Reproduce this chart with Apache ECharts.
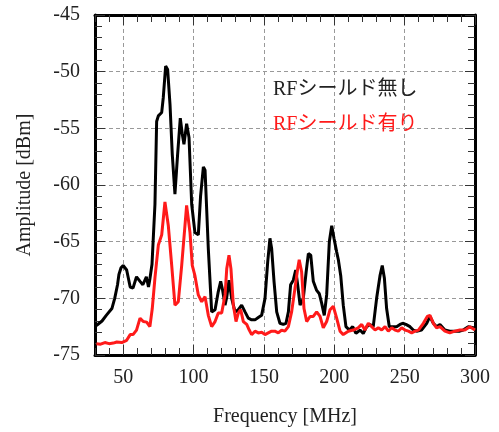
<!DOCTYPE html>
<html>
<head>
<meta charset="utf-8">
<script src="https://cdn.jsdelivr.net/npm/echarts@6/dist/echarts.min.js"></script>
<style>
  html, body { margin: 0; padding: 0; background: #fff; }
  #chart { width: 499px; height: 432px; }
</style>
</head>
<body>
<div id="chart"></div>
<script>
// [MHz, dBm]
var shieldOff = [
  [31, -72.4], [33, -72.2], [35, -72.0], [38, -71.5], [42, -70.9], [44, -70.0], [46, -68.8], [47, -67.9],
  [48.5, -67.3], [50, -67.1], [52.5, -67.5], [55, -69.0], [57, -69.1], [59.5, -68.1], [62, -68.5], [64, -68.8],
  [66.5, -68.1], [68, -69.0], [69, -68.3], [70.5, -67.0], [72.6, -61.7], [73.8, -54.4], [75, -53.9], [77.4, -53.6],
  [78.5, -52.3], [80.2, -49.5], [81.6, -49.8], [83.3, -52.9], [84.9, -57.3], [86.8, -60.8], [88.7, -57.3], [90.6, -54.1],
  [92, -55.5], [93.2, -56.4], [95.1, -54.6], [96.8, -55.8], [98.7, -61.7], [101, -64.2], [103.4, -64.4], [105, -61],
  [107, -58.4], [108.2, -58.7], [110.5, -65.6], [112.9, -71.2], [115.3, -71.0], [117.6, -69.4], [119.3, -68.5], [120.7, -69.3],
  [122.4, -70.6], [123.6, -69.9], [125.2, -68.4], [127.1, -70], [129.5, -71.2], [131.8, -71.0], [134.2, -70.6], [136.6, -71.2],
  [138.9, -71.75], [141.3, -71.9], [143.7, -71.9], [146, -71.7], [148.4, -71.5], [150.8, -70], [152.7, -66.8], [154.3, -64.7],
  [155.5, -65.6], [157.2, -68.5], [159.1, -71.2], [161.4, -72.2], [163.8, -72.3], [165.7, -72.2], [167.4, -71.2], [169, -68.8],
  [170.9, -68.4], [172.6, -67.5], [174, -68.8], [175.7, -70.6], [178, -70], [180, -67.7], [181.6, -66.05], [183.3, -66.2],
  [185.1, -68.5], [187.5, -69.3], [189.4, -69.6], [191, -70.4], [192.9, -71.5], [194.6, -69.7], [196.5, -65], [198.2, -63.6],
  [199.8, -64.7], [201.7, -65.9], [202.9, -66.6], [204.6, -68], [206.4, -70.6], [208.3, -72.5], [210.7, -72.8], [213.1, -72.5],
  [215.4, -73.1], [218.3, -72.8], [220.6, -73.1], [223, -72.5], [225.4, -72.3], [227.7, -72.5], [230.1, -70], [232.5, -68],
  [234.1, -67.1], [235.6, -68.2], [237.2, -70.9], [239.1, -72.5], [242, -72.5], [244.3, -72.5], [246.7, -72.3], [248.6, -72.2],
  [250.9, -72.3], [253.8, -72.5], [256.1, -72.8], [258.5, -72.9], [262, -72.8], [265.7, -72.2], [268, -71.6], [270.4, -72.2],
  [272.7, -72.5], [275.1, -72.3], [278.6, -72.8], [282.1, -72.9], [285.7, -72.9], [289.2, -72.9], [291.6, -72.8], [295.2, -72.5],
  [298.7, -72.6], [300, -72.6]
]
var shieldOn = [
  [31, -74.0], [34, -74.05], [37, -73.9], [40, -74.0], [43, -73.95], [45.5, -73.85], [49, -73.9], [52.5, -73.7],
  [55, -73.2], [57, -73.2], [59.5, -72.8], [62, -71.75], [64.3, -72.05], [66.7, -72.1], [69, -72.5], [70.7, -70.9],
  [72.6, -68.2], [75, -65.3], [77.4, -64.4], [79.7, -61.5], [82.1, -63.6], [84.5, -67.1], [86.8, -70.6], [89.2, -70.3],
  [91.6, -67.1], [95.1, -61.8], [97.5, -64.2], [99.1, -67.1], [101, -68], [103.4, -69.7], [105.8, -70.3], [108.2, -69.85],
  [110.5, -71.5], [112.9, -72.5], [115.3, -72.05], [117.6, -71.3], [120, -71.3], [122.4, -69.7], [123.6, -67.4], [125.2, -66.2],
  [126.6, -67.4], [128.3, -70.6], [130.2, -72.05], [131.8, -71.3], [133.5, -71.0], [135.4, -72.05], [137.8, -72.3], [139.6, -72.8],
  [141.3, -73.2], [143.7, -72.9], [146, -73.05], [148.4, -73.0], [150.8, -73.2], [153.1, -73.05], [155.5, -72.9], [157.8, -72.9],
  [160.2, -73.05], [162.6, -72.8], [164.9, -72.9], [167.4, -72.5], [169.7, -71.2], [172.1, -69.1], [174, -67.4], [175.1, -66.6],
  [176.8, -67.65], [178.5, -70.9], [180.4, -72.05], [182.8, -71.6], [185.1, -71.6], [187.5, -71.2], [189.9, -71.6], [192.2, -72.6],
  [194.6, -72.05], [197, -71.0], [199.3, -70.7], [201.7, -71.75], [204.1, -72.9], [206.4, -73.2], [210, -72.9], [213.5, -72.8],
  [217, -72.6], [219.5, -72.3], [221.8, -72.8], [224.2, -72.2], [226.6, -72.5], [229, -72.8], [231.3, -72.6], [233.7, -72.8],
  [236.1, -72.5], [238.4, -72.9], [240.8, -72.6], [243.2, -72.8], [245.5, -72.9], [247.9, -72.6], [250.3, -72.8], [252.7, -72.9],
  [255, -73.05], [257.4, -72.9], [259.8, -72.8], [263.3, -72.2], [266.1, -71.6], [268, -71.5], [270.4, -72.2], [272.7, -72.6],
  [275.1, -72.5], [278.6, -72.9], [282.1, -73.05], [285.7, -72.9], [289.2, -72.8], [292.8, -72.8], [296.3, -72.5], [300, -72.8]
]
var seriesNames = ['RFシールド無し', 'RFシールド有り']
var xTicks = [50, 100, 150, 200, 250, 300]

var font = '"Liberation Serif", "Noto Sans CJK JP", serif'
var frame = { show: true, onZero: false, lineStyle: { color: '#000', width: 3 } }
var grid = { show: true, lineStyle: { color: '#999', type: [4, 3], width: 1 } }

function minorX(pos) {
  return {
    type: 'value', position: pos, min: 30, max: 300, interval: 10,
    axisLine: { show: false },
    axisTick: { show: true, inside: true, length: 7, lineStyle: { color: '#333' } },
    axisLabel: { show: false },
    splitLine: { show: false }
  }
}

var myChart = echarts.init(document.getElementById('chart'))
var option = {
  animation: false,
  textStyle: { fontFamily: font },
  grid: { left: 95, right: 24, top: 15, bottom: 75 },
  legend: {
    left: 263,
    top: 75,
    orient: 'vertical',
    icon: 'none',
    itemWidth: 0,
    itemGap: 15,
    selectedMode: false,
    textStyle: { fontSize: 20, fontFamily: font, padding: 0 },
    data: [
      { name: seriesNames[0], textStyle: { color: '#222' } },
      { name: seriesNames[1], textStyle: { color: '#ff1a1a' } }
    ]
  },
  xAxis: [
    {
      type: 'value', position: 'bottom', min: 30, max: 300,
      name: 'Frequency [MHz]', nameLocation: 'middle', nameGap: 52,
      nameTextStyle: { fontSize: 20, color: '#222', fontFamily: font },
      axisLine: frame,
      axisTick: { show: true, inside: true, length: 10, customValues: xTicks, lineStyle: { color: '#333' } },
      axisLabel: { customValues: xTicks, fontSize: 20, color: '#222', margin: 13, fontFamily: font },
      splitLine: grid
    },
    {
      type: 'value', position: 'top', min: 30, max: 300,
      axisLine: frame,
      axisTick: { show: true, inside: true, length: 10, customValues: xTicks, lineStyle: { color: '#333' } },
      axisLabel: { show: false },
      splitLine: { show: false }
    },
    minorX('bottom'),
    minorX('top')
  ],
  yAxis: [
    {
      type: 'value', position: 'left', min: -75, max: -45, interval: 5,
      name: 'Amplitude [dBm]', nameLocation: 'middle', nameGap: 60,
      nameTextStyle: { fontSize: 20, color: '#222', fontFamily: font },
      axisLine: frame,
      axisTick: { show: true, inside: true, length: 10, lineStyle: { color: '#333' } },
      minorTick: { show: true, splitNumber: 5, length: 7, lineStyle: { color: '#333' } },
      axisLabel: { fontSize: 20, color: '#222', margin: 15, fontFamily: font },
      splitLine: grid
    },
    {
      type: 'value', position: 'right', min: -75, max: -45, interval: 5,
      axisLine: frame,
      axisTick: { show: true, inside: true, length: 10, lineStyle: { color: '#333' } },
      minorTick: { show: true, splitNumber: 5, length: 7, lineStyle: { color: '#333' } },
      axisLabel: { show: false },
      splitLine: { show: false }
    }
  ],
  series: [
    {
      name: seriesNames[0],
      type: 'line',
      showSymbol: false,
      lineStyle: { color: '#000', width: 3 },
      itemStyle: { color: '#000' },
      data: shieldOff
    },
    {
      name: seriesNames[1],
      type: 'line',
      showSymbol: false,
      lineStyle: { color: '#ff1a1a', width: 3 },
      itemStyle: { color: '#ff1a1a' },
      data: shieldOn
    }
  ]
}
myChart.setOption(option)
</script>
</body>
</html>
